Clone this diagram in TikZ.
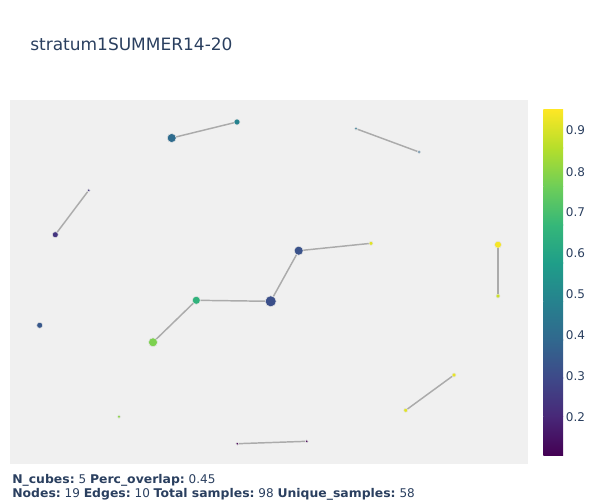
\documentclass[tikz,border=0pt]{standalone}
\usepackage{fontspec}
\usepackage{graphicx}
\setmainfont{DejaVu Sans}[BoldFont={DejaVu Sans Bold}]
\usetikzlibrary{positioning}
\definecolor{plotbg}{HTML}{F0F0F0}
\definecolor{fontblue}{HTML}{2A3F5F}
\definecolor{edgegray}{HTML}{ABABAB}
% viridis
\definecolor{v0}{HTML}{440154}
\definecolor{v1}{HTML}{482878}
\definecolor{v2}{HTML}{3E4989}
\definecolor{v3}{HTML}{31688E}
\definecolor{v4}{HTML}{26828E}
\definecolor{v5}{HTML}{1F9E89}
\definecolor{v6}{HTML}{35B779}
\definecolor{v7}{HTML}{6ECE58}
\definecolor{v8}{HTML}{B5DE2B}
\definecolor{v9}{HTML}{FDE725}
\newcommand{\infokey}[1]{\scalebox{1.035}[1]{\textbf{#1}}}

\begin{document}
\begin{tikzpicture}[x=0.75pt, y=-0.75pt,
        cube/.style={circle, draw=white!80!gray, line width=0.4pt, inner sep=0pt, minimum size=#1*0.75pt},
        link/.style={draw=edgegray, line width=1.1pt},
        ticklabel/.style={anchor=base west, inner sep=0pt, text=fontblue, font=\fontsize{9}{11}\selectfont},
        infotext/.style={anchor=base west, inner sep=0pt, text=fontblue, font=\fontsize{9}{11}\selectfont}]
        \useasboundingbox (0,0) rectangle (600,500);
        \fill[plotbg] (10,100) rectangle (528,464);

        \node[anchor=base west, inner sep=0pt, text=fontblue, font=\fontsize{12.75}{15}\selectfont] (title) at (30,50) {stratum1SUMMER14-20};

        % nodes
        \node[cube=9, fill=v3!85!v4] (c1) at (171.7,138) {};
        \node[cube=6, fill=v4] (c2) at (237,122) {};
        \node[cube=3, fill=v2!40!v1] (c3) at (88.7,190.3) {};
        \node[cube=6, fill=v2!40!v1] (c4) at (55.3,234.7) {};
        \node[cube=3, fill=v3!50!v4] (c5) at (356,128.7) {};
        \node[cube=3, fill=v3] (c6) at (419,152) {};
        \node[cube=9, fill=v2!70!v3] (c7) at (298.7,250.7) {};
        \node[cube=4, fill=v8!40!v9] (c8) at (371,243.3) {};
        \node[cube=7, fill=v9!90!v8] (c9) at (498,244.7) {};
        \node[cube=4, fill=v8!70!v9] (c10) at (498,296) {};
        \node[cube=8, fill=v6!80!v5] (c11) at (196.3,300.3) {};
        \node[cube=11, fill=v2!80!v3] (c12) at (270.7,301.3) {};
        \node[cube=6, fill=v2!50!v3] (c13) at (39.7,325.3) {};
        \node[cube=9, fill=v7!80!v8] (c14) at (153,342.3) {};
        \node[cube=3.5, fill=v7!60!v8] (c15) at (119,416.7) {};
        \node[cube=4, fill=v8!30!v9] (c16) at (454,375) {};
        \node[cube=4, fill=v8!40!v9] (c17) at (405.7,410.3) {};
        \node[cube=3, fill=v0] (c18) at (237.3,443.7) {};
        \node[cube=3, fill=v0] (c19) at (306.7,441.3) {};

        % edges
        \path (c1) edge [link] (c2);
        \path (c3) edge [link] (c4);
        \path (c5) edge [link] (c6);
        \path (c7) edge [link] (c8);
        \path (c9) edge [link] (c10);
        \path (c7) edge [link] (c12);
        \path (c11) edge [link] (c12);
        \path (c11) edge [link] (c14);
        \path (c16) edge [link] (c17);
        \path (c18) edge [link] (c19);

        % colorbar
        \foreach \top/\bot [count=\i from 0] in {v1/v0, v2/v1, v3/v2, v4/v3, v5/v4, v6/v5, v7/v6, v8/v7, v9/v8}
            \shade[top color=\top, bottom color=\bot] (543.3,{455-(\i+1)*38.33-0.4}) rectangle (563,{455-\i*38.33});
        \foreach \v/\y [count=\i] in {0.9/130, 0.8/171.7, 0.7/212.6, 0.6/253.5, 0.5/294.4, 0.4/335.3, 0.3/376.2, 0.2/417.1}
            \node[ticklabel] (tick\i) at (565.7,\y+4.3) {\v};

        \node[infotext] (info1) at (12,483.3) {\infokey{N\_cubes:} 5 \infokey{Perc\_overlap:} 0.45};
        \node[infotext] (info2) at (12,497.7) {\infokey{Nodes:} 19 \infokey{Edges:} 10 \infokey{Total samples:} 98 \infokey{Unique\_samples:} 58};
\end{tikzpicture}
\end{document}
